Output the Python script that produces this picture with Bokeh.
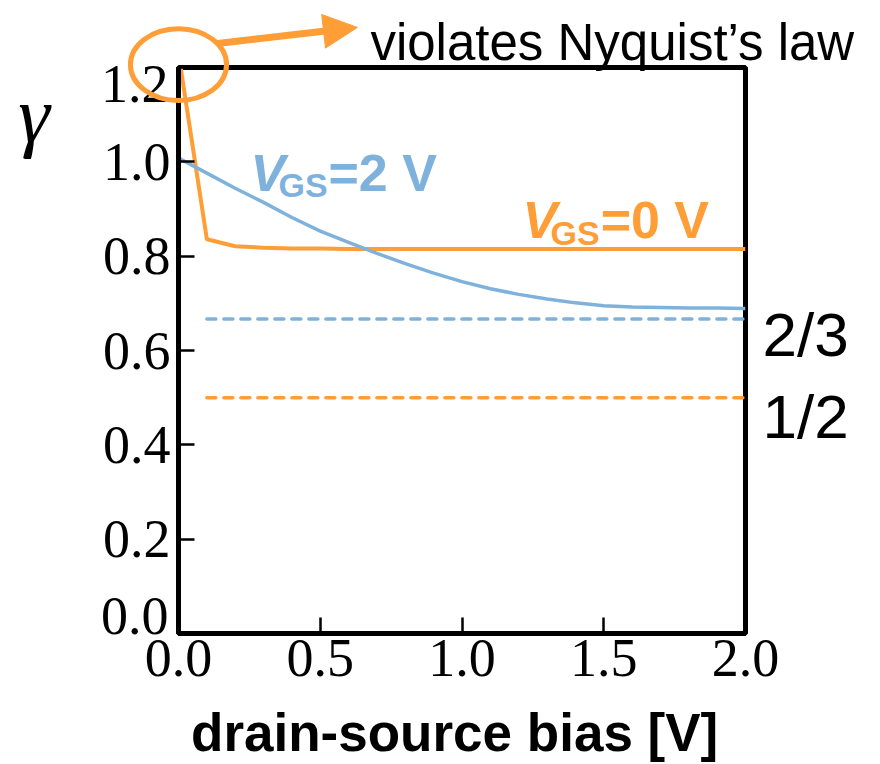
import math
from bokeh.plotting import figure
from bokeh.models import Range1d, FixedTicker, PrintfTickFormatter
from bokeh.core.properties import value
from bokeh.embed import file_html
from bokeh.resources import INLINE

# ---- data ----
vds = [0.0, 0.1, 0.2, 0.3, 0.4, 0.5, 0.6, 0.7, 0.8, 0.9, 1.0,
       1.1, 1.2, 1.3, 1.4, 1.5, 1.6, 1.7, 1.8, 1.9, 2.0]
gamma_vgs0 = [1.23, 0.836, 0.821, 0.818, 0.816, 0.816, 0.815, 0.815, 0.815, 0.815, 0.815,
              0.815, 0.815, 0.815, 0.815, 0.815, 0.815, 0.815, 0.815, 0.815, 0.815]
gamma_vgs2 = [1.008, 0.976, 0.944, 0.914, 0.882, 0.853, 0.829, 0.806, 0.784, 0.764, 0.746,
              0.731, 0.719, 0.709, 0.701, 0.695, 0.692, 0.691, 0.690, 0.690, 0.689]
ref_x = [0.1, 2.0]
ref_two_thirds = [2 / 3, 2 / 3]
ref_half = [0.5, 0.5]
x_ticks = [0.0, 0.5, 1.0, 1.5, 2.0]
y_ticks = [0.0, 0.2, 0.4, 0.6, 0.8, 1.0, 1.2]

ORANGE = "#FF9D36"
BLUE = "#7EB2DC"

W, H = 880, 764
FRAME_L, FRAME_R, FRAME_T, FRAME_B = 178, 745, 67, 635
X0, X1, Y0, Y1 = 0.0, 2.0, 0.0, 1.2
SX = (FRAME_R - FRAME_L) / (X1 - X0)   # pixels per data unit
SY = (FRAME_B - FRAME_T) / (Y1 - Y0)

p = figure(width=W, height=H, output_backend="svg", toolbar_location=None,
           x_range=Range1d(X0, X1), y_range=Range1d(Y0, Y1),
           min_border_left=FRAME_L, min_border_right=W - FRAME_R,
           min_border_top=FRAME_T, min_border_bottom=H - FRAME_B)
p.background_fill_color = "white"
p.border_fill_color = "white"
p.grid.visible = False
p.outline_line_color = "black"
p.outline_line_width = 5
p.outline_line_alpha = 1

for ax in (p.xaxis[0], p.yaxis[0]):
    ax.axis_line_width = 5
    ax.axis_line_color = "black"
    ax.major_tick_in = 16
    ax.major_tick_out = 0
    ax.major_tick_line_width = 2.5
    ax.minor_tick_line_color = None
    ax.major_label_text_font = "Liberation Serif"
    ax.major_label_text_font_size = "54px"
    ax.major_label_text_color = "black"
    ax.formatter = PrintfTickFormatter(format="%.1f")

p.xaxis.ticker = FixedTicker(ticks=x_ticks)
p.yaxis.ticker = FixedTicker(ticks=y_ticks)
# end labels of the y axis are drawn nudged inward (see below)
p.yaxis.major_label_overrides = {y_ticks[0]: "", y_ticks[-1]: ""}
p.xaxis.major_label_standoff = 6
p.yaxis.major_label_standoff = 8
p.xaxis.axis_label = "drain-source bias  [V]"
p.xaxis.axis_label_text_font = "Liberation Sans"
p.xaxis.axis_label_text_font_style = "bold"
p.xaxis.axis_label_text_font_size = "53px"
p.xaxis.axis_label_text_color = "black"
p.xaxis.axis_label_standoff = 24

# reference dashed lines
p.line(ref_x, ref_two_thirds, line_color=BLUE, line_width=3.5, line_dash="9 8", line_cap="round")
p.line(ref_x, ref_half, line_color=ORANGE, line_width=3.5, line_dash="9 8", line_cap="round")

# curves
p.line(vds, gamma_vgs0, line_color=ORANGE, line_width=4)
p.line(vds, gamma_vgs2, line_color=BLUE, line_width=3.5)


def txt(x, y, s, color, size, style="bold", font="Liberation Sans", align="left",
        baseline="alphabetic"):
    return p.text(x=[x], y=[y], text=[s], text_color=color, text_font=value(font),
                  text_font_size=size, text_font_style=style, text_align=align,
                  text_baseline=baseline, level="overlay")


# nudged end tick labels of the y axis
r = txt(-0.035, y_ticks[0], "%.1f" % y_ticks[0], "black", "54px", "normal", "Liberation Serif",
        "right", "middle")
r.glyph.y_offset = -18
r = txt(-0.035, y_ticks[-1], "%.1f" % y_ticks[-1], "black", "54px", "normal", "Liberation Serif",
        "right", "middle")
r.glyph.y_offset = 16

# curve labels
txt(0.254, 0.976, "V", BLUE, "52px", "bold italic")
txt(0.353, 0.951, "GS", BLUE, "34px")
txt(0.529, 0.976, "=2 V", BLUE, "52px")

txt(1.213, 0.877, "V", ORANGE, "52px", "bold italic")
txt(1.312, 0.849, "GS", ORANGE, "34px")
txt(1.489, 0.877, "=0 V", ORANGE, "52px")

txt(2.06, 0.634, "2/3", "black", "62px", "normal")
txt(2.06, 0.461, "1/2", "black", "62px", "normal")

# y-axis symbol
txt(-0.51, 1.10, "γ", "black", "80px", "italic", "Liberation Serif", "center", "middle")

# annotation: ellipse + arrow + text
p.ellipse(x=[0.0], y=[1.206], width=[0.339], height=[0.152], fill_color=None,
          line_color=ORANGE, line_width=5, level="overlay")

# arrow: start and tip in data units, head sized in pixels
ax0, ay0 = 0.138, 1.251
tipx, tipy = 0.631, 1.285
head_len, head_half = 34.0, 17.0
dxp, dyp = (tipx - ax0) * SX, (tipy - ay0) * SY
L = math.hypot(dxp, dyp)
ux, uy = dxp / L, dyp / L
bx, by = tipx - head_len * ux / SX, tipy - head_len * uy / SY
px_, py_ = -uy * head_half, ux * head_half
p.segment(x0=[ax0], y0=[ay0], x1=[bx + 2 * ux / SX], y1=[by + 2 * uy / SY],
          line_color=ORANGE, line_width=7, level="overlay")
p.patch(x=[tipx, bx + px_ / SX, bx - px_ / SX], y=[tipy, by + py_ / SY, by - py_ / SY],
        fill_color=ORANGE, line_color=ORANGE, line_width=1, level="overlay")

txt(0.677, 1.253, "violates Nyquist\u2019s law", "black", "51px", "normal")

open("out.html", "w").write(file_html(p, INLINE))
